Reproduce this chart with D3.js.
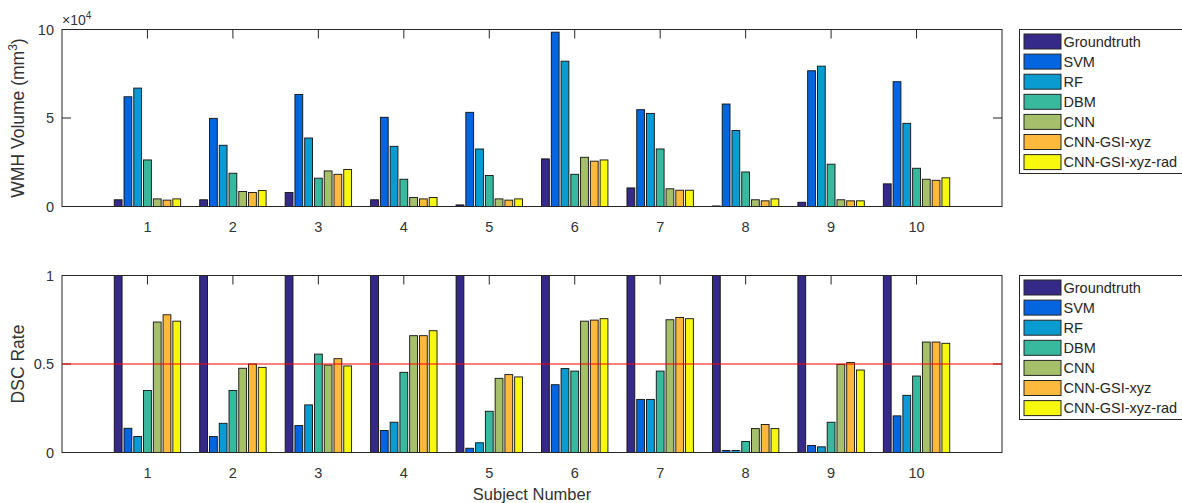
<!DOCTYPE html>
<html>
<head>
<meta charset="utf-8">
<script src="https://cdn.jsdelivr.net/npm/d3@7"></script>
<style>
  body { margin: 0; background: #fff; }
  svg { display: block; font-family: "Liberation Sans", Arial, sans-serif; }
  .tick-label { fill: #333; font-size: 14.5px; }
  .axis-label { fill: #333; font-size: 17.5px; }
  .legend text { fill: #262626; font-size: 14.5px; }
</style>
</head>
<body>
<svg id="chart" width="1182" height="503"></svg>
<script>
// categories
const subjects = [1, 2, 3, 4, 5, 6, 7, 8, 9, 10];
const methods = ["Groundtruth", "SVM", "RF", "DBM", "CNN", "CNN-GSI-xyz", "CNN-GSI-xyz-rad"];
const colors = ["#352a87", "#0565e0", "#0a9bd0", "#38b89c", "#a6bf6b", "#fdb93c", "#f7f80e"];

// WMH volume, x 10^4 mm^3
const volGroundtruth = [0.38, 0.38, 0.79, 0.38, 0.09, 2.69, 1.05, 0.03, 0.24, 1.28];
const volSVM         = [6.20, 4.98, 6.33, 5.04, 5.32, 9.85, 5.47, 5.79, 7.67, 7.05];
const volRF          = [6.69, 3.46, 3.87, 3.40, 3.25, 8.21, 5.26, 4.29, 7.93, 4.70];
const volDBM         = [2.63, 1.88, 1.60, 1.54, 1.75, 1.82, 3.25, 1.95, 2.39, 2.16];
const volCNN         = [0.43, 0.85, 2.01, 0.51, 0.43, 2.78, 1.00, 0.38, 0.38, 1.54];
const volXyz         = [0.36, 0.79, 1.82, 0.43, 0.36, 2.56, 0.92, 0.32, 0.32, 1.48];
const volXyzRad      = [0.43, 0.90, 2.09, 0.51, 0.43, 2.63, 0.92, 0.43, 0.32, 1.62];

// DSC rate
const dscGroundtruth = [1, 1, 1, 1, 1, 1, 1, 1, 1, 1];
const dscSVM         = [0.137, 0.090, 0.152, 0.124, 0.024, 0.383, 0.300, 0.011, 0.040, 0.207];
const dscRF          = [0.090, 0.165, 0.269, 0.171, 0.055, 0.474, 0.300, 0.011, 0.032, 0.323];
const dscDBM         = [0.350, 0.350, 0.556, 0.453, 0.233, 0.460, 0.460, 0.062, 0.171, 0.432];
const dscCNN         = [0.737, 0.476, 0.494, 0.660, 0.419, 0.742, 0.750, 0.135, 0.498, 0.624];
const dscXyz         = [0.778, 0.500, 0.530, 0.660, 0.440, 0.748, 0.763, 0.158, 0.508, 0.624];
const dscXyzRad      = [0.742, 0.481, 0.489, 0.688, 0.427, 0.756, 0.756, 0.135, 0.466, 0.617];

const volTicks = [0, 5, 10];
const dscTicks = [0, 0.5, 1];
const dscThreshold = 0.5;

const volSeries = [volGroundtruth, volSVM, volRF, volDBM, volCNN, volXyz, volXyzRad];
const dscSeries = [dscGroundtruth, dscSVM, dscRF, dscDBM, dscCNN, dscXyz, dscXyzRad];

const svg = d3.select("#chart");
const left = 62, right = 1002;

class BarPanel {
    constructor(parent, top, bottom, ymax, ticks, series) {
        this.g = parent.append("g");
        this.top = top;
        this.bottom = bottom;
        this.x = d3.scaleLinear().domain([0, subjects.length + 1]).range([left, right]);
        this.y = d3.scaleLinear().domain([0, ymax]).range([bottom, top]);
        let unit = this.x(1) - this.x(0);
        // matlab style grouped bars: group width 0.8, bar width 0.8 of slot
        this.inner = d3.scaleBand().domain(methods)
            .range([-0.4 * unit, 0.4 * unit])
            .paddingInner(0.2).paddingOuter(0.1);
        this.ticks = ticks;
        this.series = series;
        this.tickLen = 9;
    }

    draw() {
        let obj = this;
        let rows = [];
        this.series.forEach(function (vals, m) {
            vals.forEach(function (v, i) {
                rows.push({method: methods[m], color: colors[m], subject: subjects[i], value: v});
            });
        });

        // ticks sit under the bars (axes layer bottom)
        let ticks = this.g.append("g").attr("stroke", "#262626").attr("fill", "none");
        ticks.selectAll(".xt").data(subjects).enter().append("path")
            .attr("d", d => "M" + obj.x(d) + "," + obj.top + "v" + obj.tickLen
                + "M" + obj.x(d) + "," + obj.bottom + "v" + (-obj.tickLen));
        ticks.selectAll(".yt").data(this.ticks).enter().append("path")
            .attr("d", d => "M" + left + "," + obj.y(d) + "h" + obj.tickLen
                + "M" + right + "," + obj.y(d) + "h" + (-obj.tickLen));

        this.g.append("clipPath").attr("id", "clip" + this.top)
            .append("rect")
            .attr("x", left).attr("y", this.top)
            .attr("width", right - left).attr("height", this.bottom - this.top);

        this.g.append("g")
            .attr("clip-path", "url(#clip" + this.top + ")")
            .selectAll("rect").data(rows).enter().append("rect")
            .attr("x", d => obj.x(d.subject) + obj.inner(d.method))
            .attr("width", this.inner.bandwidth())
            .attr("y", d => obj.y(d.value))
            .attr("height", d => obj.y(0) - obj.y(d.value))
            .attr("fill", d => d.color)
            .attr("stroke", "#111")
            .attr("stroke-width", 0.9);

        this.g.append("rect")
            .attr("x", left).attr("y", this.top)
            .attr("width", right - left).attr("height", this.bottom - this.top)
            .attr("fill", "none").attr("stroke", "#262626");

        this.g.selectAll(".xl").data(subjects).enter().append("text")
            .attr("class", "tick-label")
            .attr("x", d => obj.x(d))
            .attr("y", this.bottom + 20)
            .attr("text-anchor", "middle")
            .attr("dominant-baseline", "central")
            .text(d => d);
        this.g.selectAll(".yl").data(this.ticks).enter().append("text")
            .attr("class", "tick-label")
            .attr("x", left - 8)
            .attr("y", d => obj.y(d))
            .attr("text-anchor", "end")
            .attr("dominant-baseline", "central")
            .text(d => d);
    }
}

class Legend {
    constructor(parent, x, y) {
        this.g = parent.append("g").attr("class", "legend")
            .attr("transform", "translate(" + x + "," + y + ")");
        this.step = 20.1;
    }

    draw() {
        let obj = this;
        this.g.append("rect")
            .attr("x", 0).attr("y", 0)
            .attr("width", 170).attr("height", 144)
            .attr("fill", "#fff").attr("stroke", "#262626");
        let items = this.g.selectAll(".item").data(methods).enter().append("g")
            .attr("class", "item")
            .attr("transform", (d, i) => "translate(0," + (12 + obj.step * i) + ")");
        items.append("rect")
            .attr("x", 4.5).attr("y", -7.5)
            .attr("width", 37).attr("height", 15)
            .attr("fill", (d, i) => colors[i])
            .attr("stroke", "#262626");
        items.append("text")
            .attr("x", 44)
            .attr("dominant-baseline", "central")
            .text(d => d);
    }
}

// top: volume
let topPanel = new BarPanel(svg, 29.5, 206.5, 10, volTicks, volSeries);
topPanel.draw();
new Legend(svg, 1019.5, 29.5).draw();

svg.append("text")
    .attr("class", "tick-label")
    .attr("x", 62).attr("y", 25)
    .style("font-size", "14px")
    .text("\u00d710")
    .append("tspan")
    .attr("dy", -6)
    .style("font-size", "10px")
    .text("4");

let wmh = svg.append("text")
    .attr("class", "axis-label")
    .attr("transform", "translate(24," + (topPanel.top + topPanel.bottom) / 2 + ") rotate(-90)")
    .attr("text-anchor", "middle")
    .text("WMH Volume (mm");
wmh.append("tspan").attr("dy", -7).style("font-size", "12px").text("3");
wmh.append("tspan").attr("dy", 7).text(")");

// bottom: DSC
let botPanel = new BarPanel(svg, 275.5, 452.5, 1, dscTicks, dscSeries);
botPanel.draw();

svg.append("line")
    .attr("x1", left).attr("x2", right)
    .attr("y1", botPanel.y(dscThreshold)).attr("y2", botPanel.y(dscThreshold))
    .attr("stroke", "red").attr("stroke-opacity", 0.5).attr("stroke-width", 2);

new Legend(svg, 1019.5, 275.5).draw();

svg.append("text")
    .attr("class", "axis-label")
    .attr("transform", "translate(24," + (botPanel.top + botPanel.bottom) / 2 + ") rotate(-90)")
    .attr("text-anchor", "middle")
    .text("DSC Rate");

svg.append("text")
    .attr("class", "axis-label")
    .attr("x", (left + right) / 2).attr("y", 500)
    .attr("text-anchor", "middle")
    .style("font-size", "16.5px")
    .text("Subject Number");
</script>
</body>
</html>
